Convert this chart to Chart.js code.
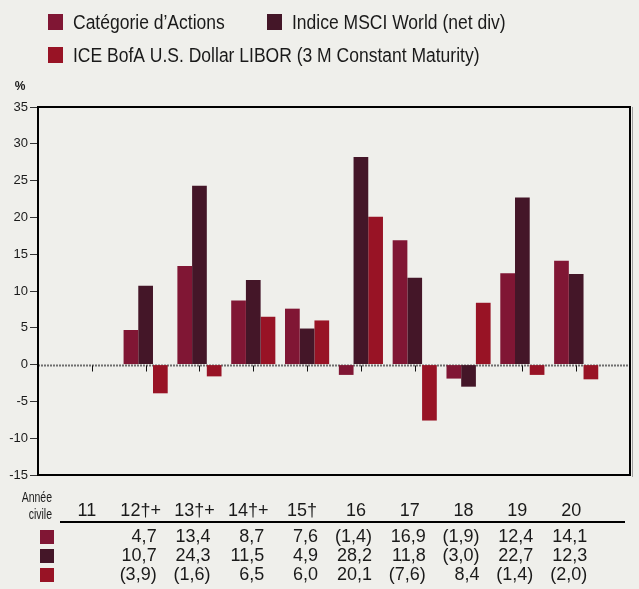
<!DOCTYPE html>
<html>
<head>
<meta charset="utf-8">
<script src="https://cdn.jsdelivr.net/npm/chart.js@4"></script>
<style>
  html, body { margin: 0; padding: 0; background: #efefeb; }
  canvas { display: block; }
</style>
</head>
<body>
<canvas id="chart" width="639" height="589"></canvas>
<script>
// ─── Data ────────────────────────────────────────────────────
const YEARS = ['11', '12†+', '13†+', '14†+', '15†', '16', '17', '18', '19', '20'];
const SERIES_NAMES = ['Catégorie d’Actions', 'Indice MSCI World (net div)', 'ICE BofA U.S. Dollar LIBOR (3 M Constant Maturity)'];
const CATEGORIE = [null, 4.7, 13.4, 8.7, 7.6, -1.4, 16.9, -1.9, 12.4, 14.1];
const MSCI = [null, 10.7, 24.3, 11.5, 4.9, 28.2, 11.8, -3.0, 22.7, 12.3];
const LIBOR = [null, -3.9, -1.6, 6.5, 6.0, 20.1, -7.6, 8.4, -1.4, -2.0];
const Y_MIN = -15, Y_MAX = 35, Y_STEP = 5;

const COLORS = ['#801634', '#441628', '#981325'];
const BG = '#efefeb';
const TEXT = '#1a1a1a';
const FONT = "'Liberation Sans', Arial, sans-serif";

// one empty slot either side so groups sit at 1..10 of an 11-unit axis
const labels = ['', ...YEARS, ''];
const pad = arr => [null, ...arr, null];
const fmt = v => {
  const s = Math.abs(v).toFixed(1).replace('.', ',');
  return v < 0 ? '(' + s + ')' : s;
};

// condensed text: squeeze horizontally around the anchor
function narrowText(ctx, text, x, y, squeeze) {
  ctx.save();
  ctx.translate(x, y);
  ctx.scale(squeeze, 1);
  ctx.fillText(text, 0, 0);
  ctx.restore();
}

// ─── Plugins ─────────────────────────────────────────────────
const background = {
  id: 'background',
  beforeDraw(chart) {
    const ctx = chart.ctx;
    ctx.save();
    ctx.fillStyle = BG;
    ctx.fillRect(0, 0, chart.width, chart.height);
    ctx.restore();
  }
};

const zeroLine = {
  id: 'zeroLine',
  beforeDatasetsDraw(chart) {
    const { ctx, chartArea: a, scales: { x, y } } = chart;
    const y0 = Math.round(y.getPixelForValue(0)) + 0.5;
    ctx.save();
    ctx.strokeStyle = '#6e6e6e';
    ctx.lineWidth = 2;
    ctx.setLineDash([2, 1]);
    ctx.beginPath();
    ctx.moveTo(a.left, y0);
    ctx.lineTo(a.right, y0);
    ctx.stroke();
    ctx.setLineDash([]);
    ctx.strokeStyle = '#111';
    ctx.lineWidth = 1;
    YEARS.forEach((_, i) => {
      const px = Math.round(x.getPixelForValue(i + 1)) + 0.5;
      ctx.beginPath();
      ctx.moveTo(px, y0);
      ctx.lineTo(px, y0 + 6);
      ctx.stroke();
    });
    ctx.restore();
  }
};

const frame = {
  id: 'frame',
  afterDatasetsDraw(chart) {
    const { ctx, chartArea: a } = chart;
    ctx.save();
    ctx.strokeStyle = '#a0a0a0';
    ctx.lineWidth = 1;
    ctx.beginPath();
    ctx.moveTo(a.right + 2.5, a.top);
    ctx.lineTo(a.right + 2.5, a.bottom + 2);
    ctx.stroke();
    ctx.strokeStyle = '#000';
    ctx.lineWidth = 2;
    ctx.strokeRect(a.left, a.top, a.right - a.left, a.bottom - a.top);
    ctx.restore();
  }
};

const annotations = {
  id: 'annotations',
  afterDraw(chart) {
    const { ctx, scales: { x } } = chart;
    ctx.save();

    // legend
    const items = [
      { sq: 48, tx: 73, y: 22 },
      { sq: 267, tx: 292, y: 22 },
      { sq: 48, tx: 73, y: 55 }
    ];
    ctx.font = '20px ' + FONT;
    ctx.textBaseline = 'middle';
    ctx.textAlign = 'left';
    items.forEach((it, i) => {
      ctx.fillStyle = COLORS[i];
      ctx.fillRect(it.sq, it.y - 8, 15, 16);
      ctx.fillStyle = TEXT;
      narrowText(ctx, SERIES_NAMES[i], it.tx, it.y + 1, 0.875);
    });

    // axis unit
    ctx.font = 'bold 12px ' + FONT;
    ctx.textAlign = 'center';
    ctx.fillText('%', 20, 87);

    // table
    ctx.font = '14px ' + FONT;
    ctx.textAlign = 'right';
    narrowText(ctx, 'Année', 52, 498, 0.75);
    narrowText(ctx, 'civile', 52, 515, 0.75);

    ctx.strokeStyle = '#000';
    ctx.lineWidth = 2;
    ctx.beginPath();
    ctx.moveTo(60, 522);
    ctx.lineTo(625, 522);
    ctx.stroke();

    const rows = [CATEGORIE, MSCI, LIBOR];
    const rowY = [537, 556, 575];
    ctx.font = '18px ' + FONT;
    YEARS.forEach((yr, i) => {
      const cx = x.getPixelForValue(i + 1);
      ctx.textAlign = 'center';
      ctx.fillText(yr, cx - 5, 511);
      ctx.textAlign = 'right';
      rows.forEach((row, r) => {
        if (row[i] === null) return;
        ctx.fillText(fmt(row[i]), cx + 11, rowY[r]);
      });
    });
    rows.forEach((_, r) => {
      ctx.fillStyle = COLORS[r];
      ctx.fillRect(40, rowY[r] - 7, 14, 14);
    });
    ctx.restore();
  }
};

// ─── Chart ───────────────────────────────────────────────────
new Chart(document.getElementById('chart').getContext('2d'), {
  type: 'bar',
  data: {
    labels,
    datasets: [CATEGORIE, MSCI, LIBOR].map((d, i) => ({
      label: SERIES_NAMES[i],
      data: pad(d),
      backgroundColor: COLORS[i],
      borderWidth: 0,
      categoryPercentage: 0.82,
      barPercentage: 1
    }))
  },
  options: {
    responsive: false,
    animation: false,
    devicePixelRatio: 1,
    layout: { padding: { left: 0, top: 107, right: 9, bottom: 114 } },
    plugins: { legend: { display: false }, tooltip: { enabled: false } },
    scales: {
      x: { type: 'category', offset: false, display: false },
      y: {
        min: Y_MIN, max: Y_MAX,
        afterFit: s => { s.width = 38; },
        ticks: { stepSize: Y_STEP, color: TEXT, padding: 2, font: { family: FONT, size: 13 } },
        grid: { drawOnChartArea: false, tickLength: 8, color: '#333', tickColor: '#333' },
        border: { display: false }
      }
    }
  },
  plugins: [background, zeroLine, frame, annotations]
});
</script>
</body>
</html>
